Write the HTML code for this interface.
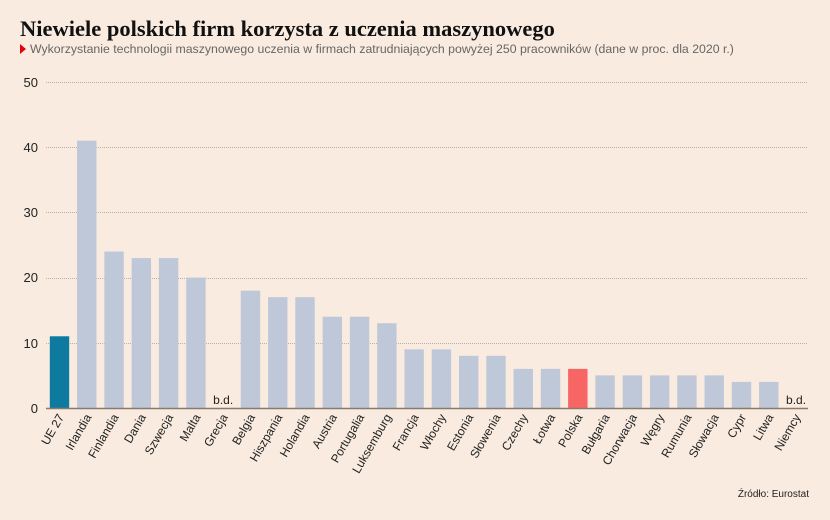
<!DOCTYPE html>
<html><head><meta charset="utf-8"><style>
html,body{margin:0;padding:0;background:#f9ebdf;}
svg{display:block;font-family:"Liberation Sans",sans-serif;}
</style></head><body>
<svg width="830" height="520" viewBox="0 0 830 520" xmlns="http://www.w3.org/2000/svg">
<rect width="830" height="520" fill="#f9ebdf"/>
<text x="20" y="36" font-family="Liberation Serif, serif" font-weight="bold" font-size="22.5" fill="#111">Niewiele polskich firm korzysta z uczenia maszynowego</text>
<polygon points="20,44 26,49 20,54" fill="#e3000f"/>
<text x="30" y="53" font-size="12.3" fill="#666">Wykorzystanie technologii maszynowego uczenia w firmach zatrudniających powyżej 250 pracowników (dane w proc. dla 2020 r.)</text>
<g stroke="#b9b0a8" stroke-width="1" stroke-dasharray="1,1">
<line x1="46" x2="808" y1="82.5" y2="82.5"/>
<line x1="46" x2="808" y1="147.5" y2="147.5"/>
<line x1="46" x2="808" y1="212.5" y2="212.5"/>
<line x1="46" x2="808" y1="278.5" y2="278.5"/>
<line x1="46" x2="808" y1="343.5" y2="343.5"/>
</g>
<g font-size="13" fill="#222" text-anchor="end">
<text x="38" y="87">50</text><text x="38" y="152">40</text><text x="38" y="217">30</text><text x="38" y="282">20</text><text x="38" y="348">10</text><text x="38" y="413">0</text>
</g>
<g id="bars"></g>
<line x1="46" x2="808" y1="408.5" y2="408.5" stroke="#8a7a6d" stroke-width="1.5"/>
<g id="labels" font-size="12" fill="#222"></g>
<text x="809" y="497" font-size="10" fill="#222" text-anchor="end">Źródło: Eurostat</text>
<script>
var d=[["UE 27",11],["Irlandia",41],["Finlandia",24],["Dania",23],["Szwecja",23],["Malta",20],["Grecja",null],["Belgia",18],["Hiszpania",17],["Holandia",17],["Austria",14],["Portugalia",14],["Luksemburg",13],["Francja",9],["Włochy",9],["Estonia",8],["Słowenia",8],["Czechy",6],["Łotwa",6],["Polska",6],["Bułgaria",5],["Chorwacja",5],["Węgry",5],["Rumunia",5],["Słowacja",5],["Cypr",4],["Litwa",4],["Niemcy",null]];
var ns="http://www.w3.org/2000/svg",b=document.getElementById("bars"),l=document.getElementById("labels");
d.forEach(function(e,i){var cx=59.5+27.28*i;
 if(e[1]!==null){var h=e[1]*6.52;var r=document.createElementNS(ns,"rect");r.setAttribute("x",cx-9.7);r.setAttribute("width",19.4);r.setAttribute("y",408-h);r.setAttribute("height",h);
 r.setAttribute("fill",i==0?"#0e7aa0":(e[0]=="Polska"?"#f76565":"#bfc8d8"));b.appendChild(r);}
 else{var t=document.createElementNS(ns,"text");t.setAttribute("x",cx);t.setAttribute("y",404);t.setAttribute("text-anchor","middle");t.setAttribute("font-size","12");t.setAttribute("fill","#222");t.textContent="b.d.";b.appendChild(t);}
 var t2=document.createElementNS(ns,"text");t2.setAttribute("text-anchor","end");t2.setAttribute("transform","translate("+(cx+5)+",417) rotate(-60)");t2.textContent=e[0];l.appendChild(t2);
});
</script>
</svg>
</body></html>
